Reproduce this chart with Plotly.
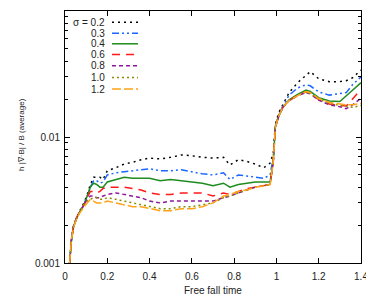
import plotly.graph_objects as go

x = [0.022, 0.03, 0.04, 0.055, 0.07, 0.09, 0.105, 0.12, 0.135, 0.15, 0.165, 0.18, 0.2,
     0.24, 0.28, 0.32, 0.36, 0.4, 0.45, 0.5, 0.55, 0.6, 0.65, 0.7, 0.75, 0.78, 0.82,
     0.86, 0.9, 0.94, 0.97, 0.985, 0.995, 1.01, 1.03, 1.06, 1.1, 1.14, 1.16, 1.2,
     1.25, 1.3, 1.33, 1.36, 1.4]

s02 = [0.001, 0.0015, 0.00195, 0.0023, 0.0026, 0.003, 0.0035, 0.0042, 0.0048, 0.0048, 0.0048, 0.0046, 0.0054,
       0.0057, 0.0061, 0.0063, 0.0066, 0.0068, 0.0067, 0.0069, 0.0072, 0.0071, 0.0069, 0.0068, 0.0069, 0.0060, 0.0066,
       0.0064, 0.0061, 0.0057, 0.0062, 0.0075, 0.0125, 0.0155, 0.018, 0.0225, 0.027, 0.031, 0.033, 0.029,
       0.0275, 0.0275, 0.028, 0.0295, 0.034]
s03 = [0.001, 0.0015, 0.00194, 0.00228, 0.00255, 0.0029, 0.0034, 0.0040, 0.0045, 0.0045, 0.0043, 0.0044, 0.0050,
       0.0052, 0.0053, 0.0054, 0.0055, 0.0056, 0.0054, 0.0054, 0.0055, 0.0053, 0.0051, 0.0050, 0.0052, 0.0046, 0.0050,
       0.0049, 0.0048, 0.0047, 0.0050, 0.0068, 0.0122, 0.0148, 0.0175, 0.0215, 0.0245, 0.026, 0.0255, 0.0228,
       0.0215, 0.022, 0.0225, 0.026, 0.030]
s04 = [0.001, 0.0015, 0.00194, 0.00228, 0.00255, 0.0029, 0.0034, 0.0040, 0.0043, 0.0042, 0.0040, 0.0040, 0.0044,
       0.0046, 0.0048, 0.0047, 0.0047, 0.0047, 0.0045, 0.0046, 0.0045, 0.0044, 0.0043, 0.0041, 0.0043, 0.0040, 0.0042,
       0.0043, 0.0044, 0.0044, 0.0044, 0.0065, 0.012, 0.0145, 0.0172, 0.0197, 0.0218, 0.0236, 0.023, 0.0205,
       0.0193, 0.0191, 0.021, 0.0235, 0.027]
s06 = [0.001, 0.0015, 0.00194, 0.00228, 0.00255, 0.0029, 0.0033, 0.0037, 0.0037, 0.0036, 0.0037, 0.0039, 0.0040,
       0.0040, 0.0040, 0.0039, 0.0038, 0.0036, 0.0035, 0.0035, 0.0036, 0.0036, 0.0036, 0.0034, 0.0036, 0.0035, 0.0037,
       0.0039, 0.0040, 0.0041, 0.0042, 0.0064, 0.012, 0.0145, 0.0172, 0.0195, 0.0213, 0.0228, 0.0222, 0.0198,
       0.0183, 0.0178, 0.0176, 0.020, 0.024]
s08 = [0.001, 0.0015, 0.00194, 0.00228, 0.00255, 0.0029, 0.0032, 0.0034, 0.0034, 0.0033, 0.0033, 0.0034, 0.0035,
       0.0036, 0.0035, 0.0034, 0.0033, 0.0031, 0.0030, 0.0031, 0.0031, 0.0031, 0.0031, 0.0031, 0.0033, 0.0034, 0.0036,
       0.0038, 0.0040, 0.0041, 0.0042, 0.0064, 0.012, 0.0145, 0.0172, 0.0195, 0.0213, 0.0225, 0.022, 0.0196,
       0.018, 0.0174, 0.0168, 0.018, 0.0203]
s10 = [0.001, 0.0015, 0.00194, 0.00228, 0.00255, 0.0029, 0.0031, 0.0032, 0.0033, 0.0033, 0.0032, 0.0032, 0.0033,
       0.0032, 0.0031, 0.0030, 0.0029, 0.0028, 0.0027, 0.0027, 0.0028, 0.0028, 0.0029, 0.0030, 0.0033, 0.0034, 0.0036,
       0.0038, 0.0040, 0.0041, 0.0042, 0.0064, 0.012, 0.0145, 0.0172, 0.0195, 0.0213, 0.0228, 0.0222, 0.020,
       0.0185, 0.0178, 0.0175, 0.0172, 0.0178]
s12 = [0.001, 0.0015, 0.0019, 0.00225, 0.0025, 0.0028, 0.0030, 0.0032, 0.0031, 0.0030, 0.0030, 0.0030, 0.0031,
       0.0030, 0.0029, 0.0028, 0.0028, 0.0027, 0.0026, 0.0026, 0.0027, 0.0027, 0.0028, 0.0030, 0.0034, 0.0035, 0.0037,
       0.0038, 0.0040, 0.0041, 0.0042, 0.0064, 0.012, 0.0145, 0.0172, 0.0195, 0.0213, 0.0229, 0.0225, 0.0202,
       0.0188, 0.0183, 0.018, 0.018, 0.0185]

labels = ["σ = 0.2", "0.3", "0.4", "0.6", "0.8", "1.0", "1.2"]
series = [s02, s03, s04, s06, s08, s10, s12]
colors = ["#000000", "#1a66ff", "#1e8c1e", "#ff1a1a", "#8c1a9c", "#8c8c00", "#ffa31a"]
dashes = ["2px,4px", "7px,3px,2px,3px,2px,3px", "solid", "8px,6px", "4px,3px", "2px,3px", "9px,3px"]

xticks = [0, 0.2, 0.4, 0.6, 0.8, 1.0, 1.2, 1.4]
xticktext = ["0", "0.2", "0.4", "0.6", "0.8", "1", "1.2", "1.4"]
yticks = [0.001, 0.01, 0.1]
yticktext = ["0.001", "0.01", "0.1"]
yminor = [m * d for d in (0.001, 0.01) for m in range(2, 10)]
xtitle = "Free fall time"
ytitle = "h |∇·B| / B (average)"

fig = go.Figure()
for lab, ys, c, d in zip(labels, series, colors, dashes):
    fig.add_trace(go.Scatter(x=x, y=ys, mode="lines", name=lab,
                             line=dict(color=c, width=1.5, dash=d), showlegend=False))

# page body has an 8px margin: the figure is placed at (8, 8) in the window
OFF = 8
W, H = 374 - OFF, 299 - OFF
L, R, T, B = 65 - OFF, 13, 11 - OFF, 36
pw, ph = W - L - R, H - T - B
def px(v): return (v - OFF - L) / pw
def py(v): return 1 - (v - OFF - T) / ph

# gnuplot-style legend (text then sample)
rows = [22.3, 33.3, 43.8, 54.4, 65.7, 77.5, 89.0]
for lab, c, d, ry in zip(labels, colors, dashes, rows):
    fig.add_annotation(x=px(107), y=py(ry), xref="paper", yref="paper", text=lab,
                       showarrow=False, xanchor="right", yanchor="middle",
                       font=dict(size=10, color="#222222"))
    fig.add_shape(type="line", xref="paper", yref="paper", x0=px(112), x1=px(138),
                  y0=py(ry), y1=py(ry), line=dict(color=c, width=1.5, dash=d))

# axis titles
fig.add_annotation(x=px(213), y=py(290), xref="paper", yref="paper", text=xtitle,
                   showarrow=False, xanchor="center", yanchor="middle",
                   font=dict(size=10, color="#222222"))
fig.add_annotation(x=px(21), y=py(135), xref="paper", yref="paper", text=ytitle,
                   showarrow=False, xanchor="center", yanchor="middle", textangle=-90,
                   font=dict(size=8, color="#222222"))

fig.update_layout(
    width=W, height=H, margin=dict(l=L, r=R, t=T, b=B, autoexpand=False),
    paper_bgcolor="white", plot_bgcolor="white",
    font=dict(family="Liberation Sans, Arial, sans-serif", size=10, color="#222222"),
    xaxis=dict(range=[0, 1.4], tickvals=xticks, ticktext=xticktext, ticks="inside",
               ticklen=5, tickcolor="#000", showline=True, linecolor="#000", linewidth=1,
               mirror="ticks", showgrid=False, zeroline=False, automargin=False,
               ticklabelstandoff=4),
    yaxis=dict(type="log", range=[-3, -1], tickvals=yticks, ticktext=yticktext, ticks="inside",
               ticklen=5, tickcolor="#000", showline=True, linecolor="#000", linewidth=1,
               mirror="ticks", showgrid=False, zeroline=False, automargin=False,
               ticklabelstandoff=2,
               minor=dict(tickvals=yminor, ticks="inside", ticklen=3, tickcolor="#000", showgrid=False)),
)

fig.write_html("out.html")
